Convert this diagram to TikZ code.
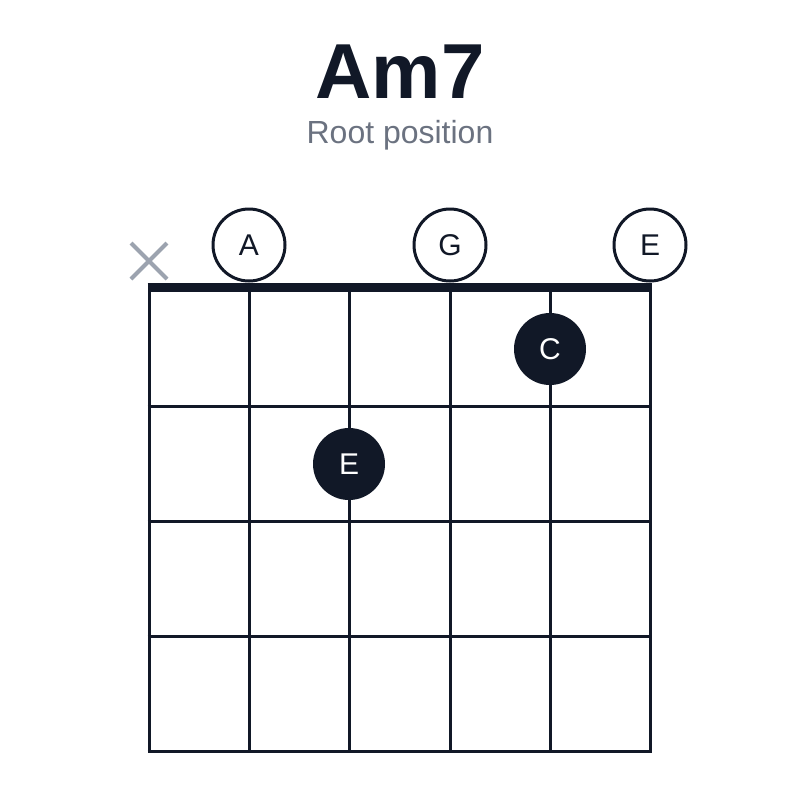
\documentclass[tikz,border=0pt]{standalone}
\usepackage{fontspec}
\setmainfont{Liberation Sans}
\usetikzlibrary{calc}
\definecolor{ink}{HTML}{111827}
\definecolor{sub}{HTML}{6B7280}
\definecolor{xg}{HTML}{9CA3AF}
\begin{document}
\begin{tikzpicture}[x=1pt,y=-1pt,
  grid/.style={line width=3pt,draw=ink},
  open/.style={circle,draw=ink,line width=3pt,fill=white,minimum size=72pt,inner sep=0pt,font=\fontsize{30}{30}\selectfont,text=ink},
  dot/.style={circle,fill=ink,minimum size=72pt,inner sep=0pt,font=\fontsize{30}{30}\selectfont,text=white}]
\useasboundingbox (0,0) rectangle (800,800);
\node[font=\bfseries\fontsize{78}{78}\selectfont,text=ink] (title) at (400,72) {Am7};
\node[font=\fontsize{32}{32}\selectfont,text=sub] (subt) at (400,135) {Root position};
\foreach \x in {149,249,349,450,550,650} \draw[grid] (\x,287) -- (\x,751);
\foreach \y in {406,521,636,751} \draw[grid] (147.5,\y) -- (651.5,\y);
\draw[line width=9pt,draw=ink] (147.5,287) -- (651.5,287);
\node[open] (o1) at (249,245) {A};
\node[open] (o2) at (450,245) {G};
\node[open] (o3) at (650,245) {E};
\coordinate (xc) at (149,261);
\draw[xg,line width=4pt] ($(xc)+(-18,-18)$) -- ($(xc)+(18,18)$) ($(xc)+(-18,18)$) -- ($(xc)+(18,-18)$);
\node[dot] (d1) at (550,349) {C};
\node[dot] (d2) at (349,464) {E};
\end{tikzpicture}
\end{document}
